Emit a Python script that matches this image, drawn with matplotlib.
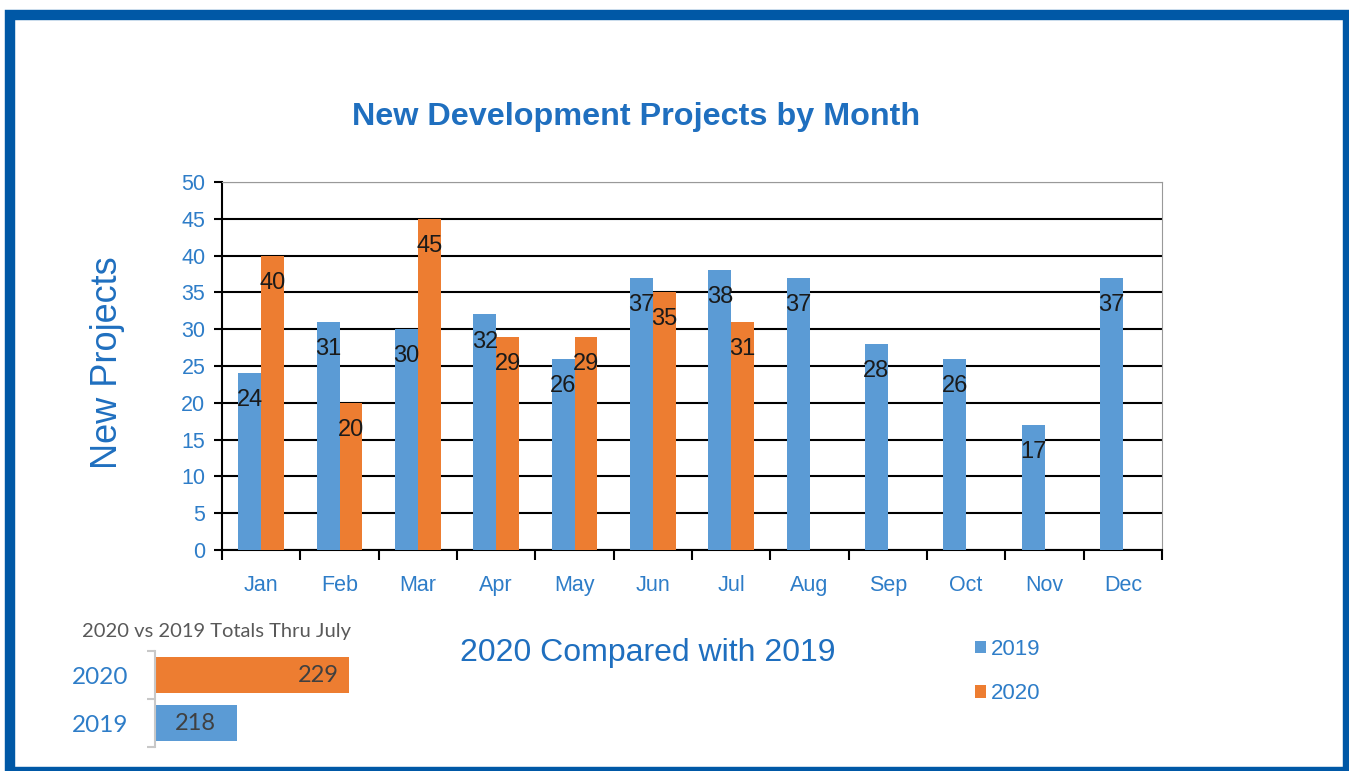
import numpy as np
import matplotlib.pyplot as plt
from matplotlib.patches import Rectangle

# New development projects by month, 2019 vs 2020
months = ['Jan', 'Feb', 'Mar', 'Apr', 'May', 'Jun', 'Jul', 'Aug', 'Sep', 'Oct', 'Nov', 'Dec']
y2019 = [24, 31, 30, 32, 26, 37, 38, 37, 28, 26, 17, 37]
y2020 = [40, 20, 45, 29, 29, 35, 31]

tot_years = ['2019', '2020']
tot_values = [218, 229]

blue = '#5B9BD5'
orange = '#ED7D31'
txt_blue = '#2E7DC8'
title_blue = '#1F6FBF'

plt.rcParams['font.family'] = ['Liberation Sans', 'DejaVu Sans']

fig = plt.figure(figsize=(13.49, 7.71), dpi=100)

# outer frame
fig.patches.append(Rectangle((10 / 1349, 1 - 772 / 771), (1348 - 10) / 1349, (772 - 15) / 771,
                             transform=fig.transFigure, fill=False, edgecolor='#0058A6',
                             linewidth=7.5, zorder=0))

ax = fig.add_axes([222 / 1349, 1 - 550 / 771, 940 / 1349, 368 / 771])
x = np.arange(len(months))
w = 0.29
b1 = ax.bar(x - w / 2, y2019, width=w, color=blue, zorder=3, label='2019')
b2 = ax.bar(x[:len(y2020)] + w / 2, y2020, width=w, color=orange, zorder=3, label='2020')

for bars, vals in ((b1, y2019), (b2, y2020)):
    for bar, v in zip(bars, vals):
        ax.annotate(str(v), (bar.get_x() + bar.get_width() / 2, v), xytext=(0, -19.5),
                    textcoords='offset points', ha='center', va='center',
                    fontsize=17, color='#1a1a1a', zorder=4)

ax.set_xlim(-0.5, 11.5)
ax.set_ylim(0, 50)
ax.set_yticks(range(0, 51, 5))
ax.set_xticks(x)
ax.set_xticklabels(months)
ax.set_xticks(np.arange(-0.5, 12, 1), minor=True)
ax.tick_params(axis='x', which='major', length=0, pad=18, labelsize=15.5, labelcolor=txt_blue)
ax.tick_params(axis='x', which='minor', length=7, width=1.5, direction='out', color='black')
ax.tick_params(axis='y', length=6, width=1.5, pad=6, labelsize=15.5, labelcolor=txt_blue)
ax.grid(axis='y', color='black', linewidth=1.5, zorder=1)
ax.spines['left'].set_linewidth(1.5)
ax.spines['bottom'].set_linewidth(1.5)
ax.spines['top'].set_color('#999999')
ax.spines['right'].set_color('#999999')

fig.text(636 / 1349, 1 - 117 / 771, 'New Development Projects by Month', ha='center', va='center',
         fontsize=23.3, fontweight='bold', color=title_blue)
fig.text(108 / 1349, 1 - 363 / 771, 'New Projects', ha='center', va='center', rotation=90,
         fontsize=26, color=title_blue)
fig.text(648 / 1349, 1 - 653 / 771, '2020 Compared with 2019', ha='center', va='center',
         fontsize=23, color=title_blue)

leg = fig.legend(handles=[b1, b2], loc='upper left', bbox_to_anchor=(955 / 1349, 1 - 619 / 771),
                 frameon=False, fontsize=16, handlelength=0.5, handleheight=0.5,
                 handletextpad=0.2, labelspacing=1.05)
for t in leg.get_texts():
    t.set_color(txt_blue)

# inset: totals thru July
ax2 = fig.add_axes([155 / 1349, 1 - 747 / 771, 204 / 1349, 96 / 771])
tx = [0, 1]
ax2.barh(tx, tot_values, height=0.77, color=[blue, orange], left=0)
ax2.set_xlim(210, 230)
ax2.set_ylim(-0.5, 1.5)
for s in ['top', 'right', 'bottom']:
    ax2.spines[s].set_visible(False)
ax2.spines['left'].set_color('#C8C8C8')
ax2.spines['left'].set_linewidth(1.5)
ax2.set_xticks([])
ax2.set_yticks(tx)
ax2.set_yticklabels(tot_years, family='Lato')
ax2.set_yticks([-0.5, 0.5, 1.5], minor=True)
ax2.tick_params(axis='y', which='major', length=0, pad=19, labelsize=17.5, labelcolor=txt_blue)
ax2.tick_params(axis='y', which='minor', length=6, width=1.5, color='#C8C8C8')
ax2.text(tot_values[1] - 1.0, 1, str(tot_values[1]), ha='right', va='center',
         fontsize=17, color='#404040', family='Lato')
ax2.text((210 + tot_values[0]) / 2, 0, str(tot_values[0]), ha='center', va='center',
         fontsize=17, color='#404040', family='Lato')
fig.text(217 / 1349, 1 - 631 / 771, '2020 vs 2019 Totals Thru July', ha='center', va='center',
         fontsize=14.5, color='#595959', family='Lato')

fig.savefig('out.png', dpi=100)
